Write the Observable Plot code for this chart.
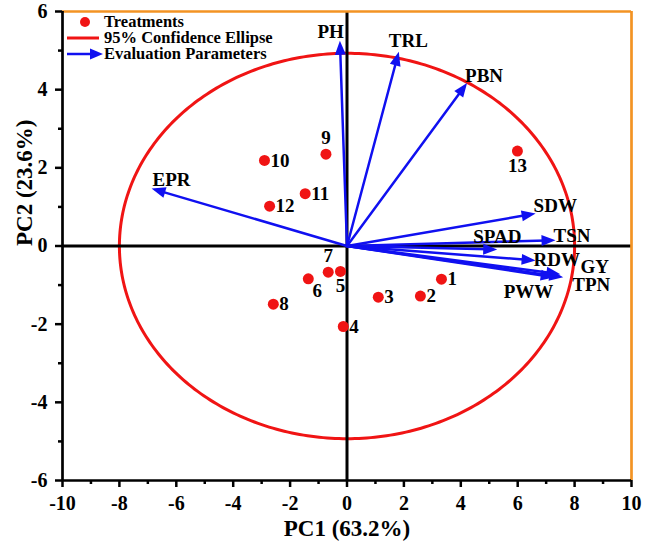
<!DOCTYPE html>
<html>
<head>
<meta charset="utf-8">
<script src="https://cdn.jsdelivr.net/npm/d3@7"></script>
<script src="https://cdn.jsdelivr.net/npm/@observablehq/plot@0.6"></script>
<style>
  body { margin: 0; background: #fff; }
  #wrap { position: relative; width: 649px; height: 545px; }
  #wrap svg { display: block; }
  #wrap svg text { font-weight: bold; font-family: "Liberation Serif", "Times New Roman", Times, serif; }
  #legend { position: absolute; left: 0; top: 0; }
</style>
</head>
<body>
<div id="wrap"></div>
<script>
// ---------- data ----------
const treatments = ["1","2","3","4","5","6","7","8","9","10","11","12","13"];
const treatPC1   = [3.32, 2.58, 1.10, -0.13, -0.23, -1.36, -0.66, -2.59, -0.74, -2.90, -1.47, -2.72, 5.99];
const treatPC2   = [-0.85, -1.28, -1.31, -2.06, -0.65, -0.84, -0.67, -1.49, 2.35, 2.19, 1.34, 1.02, 2.43];

const parameters = ["PH","TRL","PBN","EPR","SDW","SPAD","TSN","RDW","GY","TPN","PWW"];
const loadPC1    = [-0.25, 1.82, 4.22, -6.87, 6.63, 5.28, 7.33, 6.63, 7.50, 7.60, 7.30];
const loadPC2    = [5.25, 4.97, 4.17, 1.47, 0.83, -0.09, 0.15, -0.37, -0.72, -0.80, -0.80];

const xTicks = [-10, -8, -6, -4, -2, 0, 2, 4, 6, 8, 10];
const xMinor = [-9, -7, -5, -3, -1, 1, 3, 5, 7, 9];
const yTicks = [-6, -4, -2, 0, 2, 4, 6];
const yMinor = [-5, -3, -1, 1, 3, 5];

const axisTitles  = ["PC1 (63.2%)", "PC2 (23.6%)"];
const legendItems = ["Treatments", "95% Confidence Ellipse", "Evaluation Parameters"];
const ellipseRadii = [8.0, 4.93]; // 95% confidence ellipse semi-axes (PC1, PC2)

// ---------- layout / style ----------
const W = 649, H = 545;
const M = {left: 62, right: 18, top: 11, bottom: 65};
const FONT = '"Liberation Serif", "Times New Roman", Times, serif';
const RED = "#f01414", BLUE = "#1010f0", ORANGE = "#f39323";
const kx = (W - M.left - M.right) / (xTicks[xTicks.length-1] - xTicks[0]);
const ky = (H - M.top - M.bottom) / (yTicks[yTicks.length-1] - yTicks[0]);

const pointLabelPlacement = {
  right: ["1","2","3","4","8","10","11","12"],
  above: ["7","9"],
  below: ["5","13"],
  belowRight: ["6"]
};
const paramLabelOffset = {
  PH:   {dx: 4,   dy: -9,  anchor: "end"},
  TRL:  {dx: -10, dy: -11},
  PBN:  {dx: -2,  dy: -7},
  EPR:  {dx: 1,   dy: -9},
  SDW:  {dx: -2,  dy: -8},
  SPAD: {dx: -24, dy: -13},
  TSN:  {dx: -2,  dy: -4},
  RDW:  {dx: -2,  dy: -1},
  GY:   {dx: 20,  dy: -7},
  TPN:  {dx: 9,   dy: 8},
  PWW:  {dx: -51, dy: 15}
};

// ---------- derived tables ----------
const points = treatments.map((t, i) => ({name: t, x: treatPC1[i], y: treatPC2[i]}));
const vectors = parameters.map((p, i) => ({name: p, x: loadPC1[i], y: loadPC2[i]}));
const ellipse = d3.range(0, 361, 1).map(a => {
  const t = a * Math.PI / 180;
  return {x: ellipseRadii[0] * Math.cos(t), y: ellipseRadii[1] * Math.sin(t)};
});
const arrowHead = {
  draw(ctx) { ctx.moveTo(0, 0); ctx.lineTo(5.5, 14); ctx.lineTo(-5.5, 14); ctx.closePath(); }
};
const headAngle = d => Math.atan2(d.x * kx, d.y * ky) * 180 / Math.PI;

const textOpts = {fontFamily: FONT, fontWeight: "bold", fill: "black", lineAnchor: "middle"};

function pointLabels(group, extra) {
  const names = pointLabelPlacement[group];
  return Plot.text(points.filter(d => names.includes(d.name)),
    {x: "x", y: "y", text: "name", fontSize: 19, ...textOpts, ...extra});
}

const chart = Plot.plot({
  width: W, height: H,
  marginLeft: M.left, marginRight: M.right, marginTop: M.top, marginBottom: M.bottom,
  x: {domain: [xTicks[0], xTicks[xTicks.length-1]], label: null},
  y: {domain: [yTicks[0], yTicks[yTicks.length-1]], label: null},
  style: {fontFamily: FONT, fontWeight: "bold", background: "white", color: "black", overflow: "visible"},
  marks: [
    // confidence ellipse
    Plot.line(ellipse, {x: "x", y: "y", stroke: RED, strokeWidth: 3, curve: "linear"}),
    // zero lines
    Plot.ruleY([0], {stroke: "black", strokeWidth: 3}),
    Plot.ruleX([0], {stroke: "black", strokeWidth: 3}),
    // frame
    Plot.ruleX([xTicks[xTicks.length-1]], {stroke: ORANGE, strokeWidth: 2.7}),
    Plot.ruleY([yTicks[yTicks.length-1]], {stroke: ORANGE, strokeWidth: 2.7}),
    Plot.ruleX([xTicks[0]], {stroke: "black", strokeWidth: 2.7}),
    Plot.ruleY([yTicks[0]], {stroke: "black", strokeWidth: 2.7}),
    // axes
    Plot.axisX({ticks: xTicks, tickSize: 7, tickPadding: 8, strokeWidth: 2.5,
      tickFormat: d => String(d), fontSize: 20, fontFamily: FONT, fontWeight: "bold", label: null}),
    Plot.axisX({ticks: xMinor, tickSize: 4, strokeWidth: 2.5, tickFormat: () => "", label: null}),
    Plot.axisY({ticks: yTicks, tickSize: 7, tickPadding: 8, strokeWidth: 2.5,
      tickFormat: d => String(d), fontSize: 20, fontFamily: FONT, fontWeight: "bold", label: null}),
    Plot.axisY({ticks: yMinor, tickSize: 4, strokeWidth: 2.5, tickFormat: () => "", label: null}),
    // axis titles
    Plot.text([axisTitles[0]], {frameAnchor: "bottom", dy: 48, fontSize: 23, ...textOpts}),
    Plot.text([axisTitles[1]], {frameAnchor: "left", dx: -38, rotate: -90, fontSize: 23, ...textOpts}),
    // loading vectors
    Plot.arrow(vectors, {x1: d => 0, y1: d => 0, x2: "x", y2: "y", stroke: BLUE, strokeWidth: 2.5,
      headLength: 0, insetEnd: 9}),
    Plot.dot(vectors, {x: "x", y: "y", symbol: arrowHead, rotate: headAngle, fill: BLUE, stroke: "none", r: 3}),
    // treatments
    Plot.dot(points, {x: "x", y: "y", r: 5.5, fill: RED, stroke: "none"}),
    pointLabels("right", {dx: 6, textAnchor: "start"}),
    pointLabels("above", {dy: -16, textAnchor: "middle"}),
    pointLabels("below", {dy: 15, textAnchor: "middle"}),
    pointLabels("belowRight", {dx: 9, dy: 12, textAnchor: "middle"}),
    // vector labels
    ...vectors.map(v => {
      const o = paramLabelOffset[v.name];
      return Plot.text([v], {x: "x", y: "y", text: "name", dx: o.dx, dy: o.dy,
        textAnchor: o.anchor || "start", fontSize: 19, ...textOpts});
    })
  ]
});

const wrap = document.getElementById("wrap");
wrap.appendChild(chart);

// ---------- legend (overlaid at top-left inside plot) ----------
const lg = d3.select(wrap).append("svg").attr("id", "legend")
  .attr("width", 300).attr("height", 70)
  .style("font-family", FONT).style("font-weight", "bold");
const rowY = [22, 38, 54];
lg.append("circle").attr("cx", 85).attr("cy", rowY[0]).attr("r", 5).attr("fill", RED);
lg.append("line").attr("x1", 67).attr("x2", 99).attr("y1", rowY[1]).attr("y2", rowY[1])
  .attr("stroke", RED).attr("stroke-width", 3);
lg.append("line").attr("x1", 67).attr("x2", 92).attr("y1", rowY[2]).attr("y2", rowY[2])
  .attr("stroke", BLUE).attr("stroke-width", 2.5);
lg.append("path").attr("d", `M103,${rowY[2]} L90,${rowY[2]-5.5} L90,${rowY[2]+5.5} Z`).attr("fill", BLUE);
lg.selectAll("text.item").data(legendItems).join("text")
  .attr("x", 104).attr("y", (d, i) => rowY[i] + 5)
  .attr("font-size", 16.5).attr("fill", "black").text(d => d);
</script>
</body>
</html>
